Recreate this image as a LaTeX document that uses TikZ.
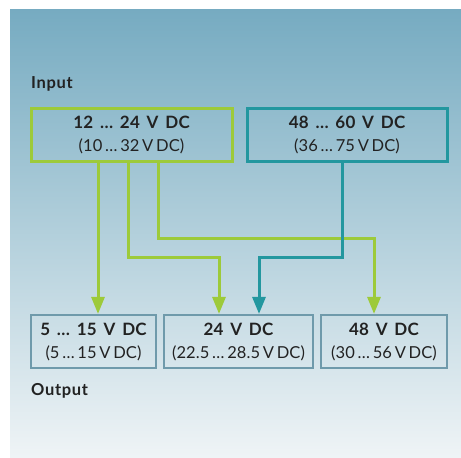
\documentclass[tikz,border=0pt]{standalone}
\usepackage{fontspec}
\setmainfont{Lato}
\usetikzlibrary{arrows.meta}
\definecolor{bgtop}{HTML}{76ABC1}
\definecolor{bgbot}{HTML}{EFF4F6}
\definecolor{lgreen}{HTML}{9DCA3A}
\definecolor{lteal}{HTML}{23979F}
\definecolor{outframe}{HTML}{6F9AAB}
\definecolor{ink}{HTML}{222222}
\newcommand{\headline}[1]{{\fontsize{17}{23}\selectfont\bfseries\addfontfeature{LetterSpace=1.5}\spaceskip=0.4em #1}}
\newcommand{\subline}[1]{{\fontsize{16.5}{23}\selectfont\addfontfeature{LetterSpace=0.5}#1}}
\tikzset{
  inbox/.style={draw, line width=3pt, minimum height=53pt, inner sep=0pt, text=ink, align=center, font=\fontsize{16.5}{23}\selectfont},
  outbox/.style={draw=outframe, line width=2.2pt, minimum height=53pt, inner sep=0pt, text=ink, align=center, font=\fontsize{16.5}{23}\selectfont},
  conn/.style={line width=3pt, -{Triangle[length=17pt,width=13pt]}},
  lbl/.style={anchor=base west, inner sep=0pt, text=ink, font=\fontsize{16.5}{19}\selectfont\bfseries\addfontfeature{LetterSpace=4}},
}
\begin{document}
\begin{tikzpicture}[x=1pt,y=-1pt]
\useasboundingbox (0,0) rectangle (461,458);
\shade[top color=bgtop, bottom color=bgbot, middle color=bgtop!50!bgbot] (10,9) rectangle (461,458);
\node[lbl] (inlbl) at (31,88) {Input};
\node[lbl] (outlbl) at (31,395) {Output};
\node[inbox, draw=lgreen, minimum width=201pt] (in1) at (131.5,134.5) {\headline{12 … 24 V DC}\\\subline{(10\,…\,32\,V\,DC)}};
\node[inbox, draw=lteal, minimum width=200pt] (in2) at (347,134.5) {\headline{48 … 60 V DC}\\\subline{(36\,…\,75\,V\,DC)}};
\node[outbox, minimum width=125pt] (out1) at (93.5,341.5) {\headline{5 … 15 V DC}\\\subline{(5\,…\,15\,V\,DC)}};
\node[outbox, minimum width=149pt] (out2) at (238.5,341.5) {\headline{24 V DC}\\\subline{(22.5\,…\,28.5\,V\,DC)}};
\node[outbox, minimum width=126pt] (out3) at (384,341.5) {\headline{48 V DC}\\\subline{(30\,…\,56\,V\,DC)}};
\coordinate (xa) at (98,0);
\coordinate (xb) at (128,257);
\coordinate (xc) at (158,238);
\coordinate (xd) at (219,0);
\coordinate (xe) at (374,0);
\coordinate (xf) at (342,257);
\coordinate (xg) at (259,0);
\draw[conn, lgreen] (in1.south -| xa) -- (out1.north -| xa);
\draw[conn, lgreen] (in1.south -| xb) -- (xb) -- (xb -| xd) -- (out2.north -| xd);
\draw[conn, lgreen] (in1.south -| xc) -- (xc) -- (xc -| xe) -- (out3.north -| xe);
\draw[conn, lteal] (in2.south -| xf) -- (xf) -- (xf -| xg) -- (out2.north -| xg);
\end{tikzpicture}
\end{document}
